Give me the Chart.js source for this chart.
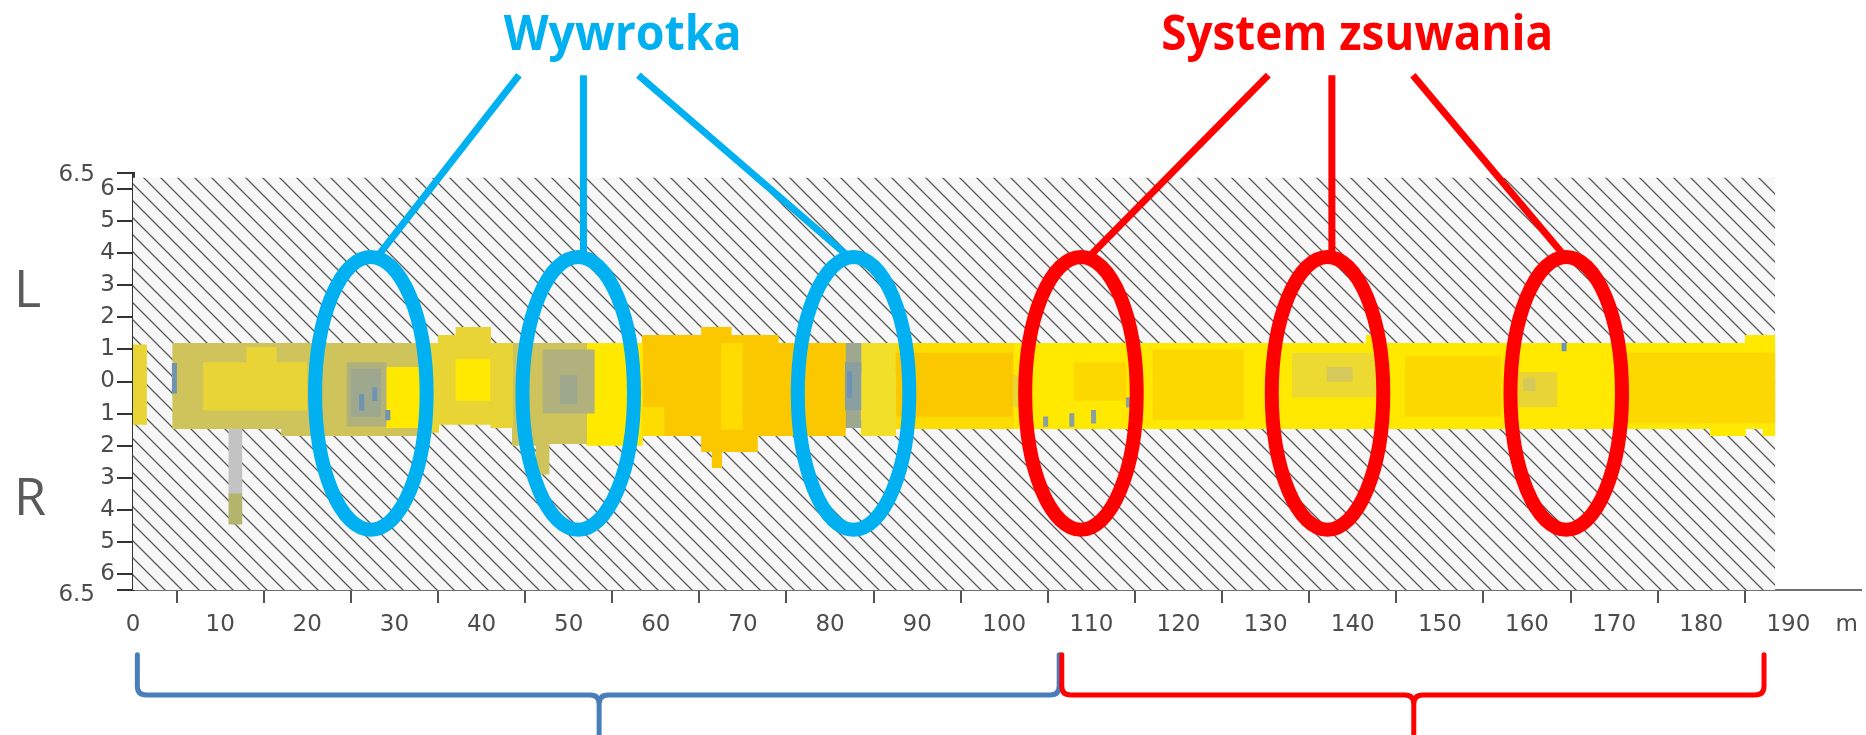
<!DOCTYPE html>
<html>
<head>
<meta charset="utf-8">
<title>Wywrotka / System zsuwania</title>
<script src="https://cdn.jsdelivr.net/npm/chart.js@4.4.1/dist/chart.umd.min.js"></script>
<style>
  html, body { margin: 0; padding: 0; background: #fff; }
  #wrap { position: relative; width: 1866px; height: 735px; }
</style>
</head>
<body>
<div id="wrap"><canvas id="chart"></canvas></div>
<script>
// --- dane (metry wzdłuż drogi, metry w poprzek: + lewa / - prawa) ---
const xTicks = [0, 10, 20, 30, 40, 50, 60, 70, 80, 90, 100, 110, 120, 130, 140, 150, 160, 170, 180, 190];
const yTicks = [-6.5, -6, -5, -4, -3, -2, -1, 0, 1, 2, 3, 4, 5, 6, 6.5];
const unitAt = 196.7;

// zakres pomiaru (szrafowany)
const hatchStart = 0;
const hatchEnd = 188.5;
const hatchTop = 6.35;

// pas zmierzony: odcinek od x[i] do x[i+1]
const bandX      = [0, 1.6, 4.5, 17, 33, 35, 37, 41, 43.5, 46.2, 47.7, 52, 58.4, 65.2, 66.4, 67.5, 68.6, 71.6, 74, 81.7, 83.5, 87.5, 101, 141.5, 142.3, 181, 185, 187, 188.5];
const bandTop    = [1.15, 0, 1.2, 1.2, 1.2, 1.45, 1.7, 1.2, 1.2, 1.2, 1.2, 1.2, 1.45, 1.7, 1.7, 1.7, 1.45, 1.45, 1.2, 1.2, 1.2, 1.2, 1.2, 1.45, 1.2, 1.2, 1.45, 1.45, 1.45];
const bandBottom = [-1.35, 0, -1.48, -1.7, -1.6, -1.35, -1.35, -1.45, -2.0, -2.9, -1.95, -2.0, -1.7, -2.2, -2.7, -2.2, -2.2, -1.7, -1.7, -1.45, -1.7, -1.48, -1.48, -1.48, -1.48, -1.7, -1.48, -1.7, -1.7];
const bandTone   = ['khaki', null, 'olive', 'olive', 'khaki', 'khaki', 'khaki', 'khaki', 'olive', 'olive', 'olive', 'lemon', 'amber', 'amber', 'amber', 'amber', 'amber', 'amber', 'amber', 'slate', 'pale', 'sun', 'lemon', 'lemon', 'lemon', 'lemon', 'lemon', 'lemon', null];

// środek pasa
const coreX      = [0, 8, 20, 24.5, 29, 33, 37, 41, 47, 53, 81.7, 83.5, 87.5, 101, 108, 114, 117, 127.5, 133, 143, 146, 157, 159, 163.5, 170, 188.5];
const coreTop    = [0, 0.6, 0, 0.6, 0.45, 0, 0.7, 0, 1.0, 0, 0.6, 0.3, 0.9, 0, 0.6, 0, 1.0, 0, 0.9, 0, 0.8, 0, 0.3, 0, 0.9, 0.9];
const coreBottom = [0, -0.9, 0, -1.4, -1.45, 0, -0.6, 0, -1.0, 0, -0.9, -1.2, -1.1, 0, -0.6, 0, -1.2, 0, -0.5, 0, -1.1, 0, -0.8, 0, -1.3, -1.3];
const coreTone   = [null, 'khaki', null, 'sage', 'lemon', null, 'lemon', null, 'sage', null, 'steel', 'pale', 'amber', null, 'gold', null, 'gold', null, 'bright', null, 'gold', null, 'khaki', null, 'gold', null];

// plamy
const patchX      = [0, 13, 16.5, 25, 28.5, 49, 51, 58.4, 61, 67.5, 70, 101, 103, 137, 140, 159.5, 161, 188.5];
const patchTop    = [0, 1.07, 0, 0.4, 0, 0.2, 0, -0.8, 0, 1.2, 0, 0.2, 0, 0.45, 0, 0.1, 0, 0];
const patchBottom = [0, 0.4, 0, -1.1, 0, -0.7, 0, -1.7, 0, -1.5, 0, -0.8, 0, 0, 0, -0.3, 0, 0];
const patchTone   = [null, 'khaki', null, 'slate', null, 'slate', null, 'sun', null, 'sun', null, 'khaki', null, 'ochre', null, 'ochre', null, null];

// smugi (komórki 0.5 m)
const streakX    = [4.75, 11.25, 11.75, 12.25, 11.25, 11.75, 12.25, 26.25, 27.75, 29.25, 82.25, 104.75, 107.75, 110.25, 114.25, 164.25];
const streakLow  = [-0.36, -3.5, -3.5, -3.5, -4.45, -4.45, -4.45, -0.9, -0.6, -1.2, -0.5, -1.4, -1.4, -1.3, -0.8, 0.95];
const streakHigh = [0.57, -1.48, -1.48, -1.48, -3.5, -3.5, -3.5, -0.4, -0.2, -0.9, 0.3, -1.1, -1.0, -0.9, -0.5, 1.2];
const streakTone = ['blue', 'gray', 'gray', 'gray', 'moss', 'moss', 'moss', 'blue', 'blue', 'blue', 'blue', 'steel', 'steel', 'steel', 'steel', 'blue'];

// --- kolory ---
const tones = {
  olive: '#cec45b',
  khaki: '#e8d535',
  pale: '#f1df2a',
  bright: '#ecd932',
  lemon: '#ffe900',
  sun: '#ffdc00',
  gold: '#fdd700',
  amber: '#fbc800',
  sage: '#b0b17c',
  slate: '#9ea88e',
  steel: '#8a9fa0',
  blue: '#6f93b0',
  gray: '#c3c3c3',
  moss: '#b4b46c',
  ochre: '#d6c95c'
};

// --- adnotacje ---
const groups = [
  { text: 'Wywrotka', color: '#00b0f0', at: 56.2, maxWidth: 238,
    ellipses: [27.3, 51.1, 82.7], from: [44.3, 51.7, 58.0], to: [28.0, 51.7, 82.2] },
  { text: 'System zsuwania', color: '#ff0000', at: 140.5, maxWidth: 392,
    ellipses: [108.8, 137.1, 164.5], from: [130.3, 137.6, 146.9], to: [109.7, 137.6, 164.4] }
];
const braces = [
  { from: 0.5, to: 106.3, tip: 53.5, color: '#4a7ebb' },
  { from: 106.6, to: 187.2, tip: 147, color: '#ff0000' }
];

// zakładka między sąsiednimi odcinkami (żeby nie było szwów)
const seam = 0.12;

const chartCanvas = document.getElementById('chart');
const chartCtx = chartCanvas.getContext('2d');

function makeHatch() {
  const s = 17;
  const c = document.createElement('canvas');
  c.width = s;
  c.height = s;
  const g = c.getContext('2d');
  g.fillStyle = '#f7f7f7';
  g.fillRect(0, 0, s, s);
  g.strokeStyle = '#5a5a5a';
  g.lineWidth = 1.3;
  g.beginPath();
  g.moveTo(-2, -2); g.lineTo(s + 2, s + 2);
  g.moveTo(-2, s - 2); g.lineTo(2, s + 2);
  g.moveTo(s - 2, -2); g.lineTo(s + 2, 2);
  g.stroke();
  return chartCtx.createPattern(c, 'repeat');
}

// jeden odcinek = linia na górnej krawędzi wypełniona do dolnej krawędzi
function blocks(label, xs, tops, bottoms, toneList, order) {
  const out = [];
  for (let i = 0; i < xs.length - 1; i++) {
    if (!toneList[i]) continue;
    const next = toneList[i + 1] ? xs[i + 1] + seam : xs[i + 1];
    out.push({
      type: 'line', label: label, order: order,
      data: [{ x: xs[i], y: tops[i] }, { x: next, y: tops[i] }],
      fill: { value: bottoms[i] },
      backgroundColor: tones[toneList[i]],
      borderColor: 'rgba(0,0,0,0)', borderWidth: 0, pointRadius: 0
    });
  }
  return out;
}

const datasets = [
  {
    type: 'line', label: 'zakres', order: 10,
    data: [{ x: hatchStart, y: hatchTop }, { x: hatchEnd, y: hatchTop }],
    fill: 'start', backgroundColor: makeHatch(),
    borderWidth: 0, borderColor: 'rgba(0,0,0,0)', pointRadius: 0
  },
  ...blocks('pas', bandX, bandTop, bandBottom, bandTone, 8),
  ...blocks('środek', coreX, coreTop, coreBottom, coreTone, 6),
  ...blocks('plamy', patchX, patchTop, patchBottom, patchTone, 5),
  {
    type: 'bar', label: 'smugi', order: 4,
    data: streakX.map((x, i) => ({ x: x, y: [streakLow[i], streakHigh[i]] })),
    backgroundColor: streakTone.map(t => tones[t]),
    barPercentage: 1, categoryPercentage: 1, grouped: false, borderWidth: 0
  }
];

function drawBrace(ctx, x0, x1, xt, yTop, yMid, yBot, r) {
  ctx.beginPath();
  ctx.moveTo(x0, yTop);
  ctx.lineTo(x0, yMid - r);
  ctx.quadraticCurveTo(x0, yMid, x0 + r, yMid);
  ctx.lineTo(xt - r, yMid);
  ctx.quadraticCurveTo(xt, yMid, xt, yMid + r);
  ctx.lineTo(xt, yBot);
  ctx.moveTo(x1, yTop);
  ctx.lineTo(x1, yMid - r);
  ctx.quadraticCurveTo(x1, yMid, x1 - r, yMid);
  ctx.lineTo(xt + r, yMid);
  ctx.quadraticCurveTo(xt, yMid, xt, yMid + r);
  ctx.stroke();
}

const annotate = {
  id: 'annotate',
  afterDraw(chart) {
    const { ctx, chartArea } = chart;
    const xs = chart.scales.x;
    const ys = chart.scales.y;
    const px = v => xs.getPixelForValue(v);
    const py = v => ys.getPixelForValue(v);
    ctx.save();

    // 6.5 na końcach osi
    ctx.font = '23px "DejaVu Sans"';
    ctx.fillStyle = '#4d4d4d';
    ctx.textAlign = 'right';
    ctx.textBaseline = 'middle';
    ctx.fillText('6.5', chartArea.left - 38, py(6.5) + 2);
    ctx.fillText('6.5', chartArea.left - 38, py(-6.5) + 5);

    // strony L / R
    ctx.font = '52px "Open Sans"';
    ctx.fillStyle = '#5a5a5a';
    ctx.textAlign = 'left';
    ctx.textBaseline = 'alphabetic';
    ctx.fillText('L', 14, py(2.32));
    ctx.fillText('R', 14, py(-4.16));

    // nawiasy pod osią
    ctx.lineWidth = 5;
    ctx.lineCap = 'round';
    ctx.lineJoin = 'round';
    braces.forEach(b => {
      ctx.strokeStyle = b.color;
      drawBrace(ctx, px(b.from), px(b.to), px(b.tip), py(-8.52), py(-9.77), py(-11.3), 9);
    });

    // odnośniki, elipsy i podpisy
    const rx = px(6.4) - px(0);
    const ry = py(0) - py(4.25);
    groups.forEach(g => {
      ctx.strokeStyle = g.color;
      ctx.lineCap = 'butt';
      ctx.lineWidth = 7;
      g.from.forEach((f, i) => {
        ctx.beginPath();
        ctx.moveTo(px(f), py(9.55));
        ctx.lineTo(px(g.to[i]), py(3.88));
        ctx.stroke();
      });
      ctx.lineWidth = 14;
      g.ellipses.forEach(cx => {
        ctx.beginPath();
        ctx.ellipse(px(cx), py(-0.37), rx, ry, 0, 0, Math.PI * 2);
        ctx.stroke();
      });
      ctx.font = 'bold 48px "Open Sans"';
      ctx.fillStyle = g.color;
      ctx.textAlign = 'center';
      ctx.textBaseline = 'alphabetic';
      ctx.fillText(g.text, px(g.at), py(10.33), g.maxWidth);
    });

    ctx.restore();
  }
};

Chart.defaults.font.family = '"DejaVu Sans", sans-serif';

new Chart(chartCtx, {
  type: 'line',
  data: { datasets: datasets },
  options: {
    responsive: true,
    maintainAspectRatio: false,
    animation: false,
    devicePixelRatio: 1,
    events: [],
    layout: { padding: { top: 173, left: 0, right: 0, bottom: 0 } },
    plugins: {
      legend: { display: false },
      tooltip: { enabled: false }
    },
    scales: {
      x: {
        type: 'linear',
        min: 0,
        max: 198.3,
        offset: false,
        afterBuildTicks: s => { s.ticks = xTicks.concat([unitAt]).map(v => ({ value: v })); },
        afterFit: s => { s.height = 145; },
        ticks: {
          autoSkip: false,
          maxRotation: 0,
          padding: 8,
          color: '#4d4d4d',
          font: { size: 23 },
          callback: v => v === unitAt ? 'm' : String(v)
        },
        grid: {
          drawOnChartArea: false,
          tickLength: 13,
          lineWidth: 2,
          tickColor: c => (c.tick && c.tick.value === unitAt) ? 'rgba(0,0,0,0)' : '#555'
        },
        border: { color: '#707070', width: 2 }
      },
      y: {
        type: 'linear',
        min: -6.5,
        max: 6.5,
        afterBuildTicks: s => { s.ticks = yTicks.map(v => ({ value: v })); },
        afterFit: s => { s.width = 133; },
        ticks: {
          autoSkip: false,
          padding: 2,
          color: '#4d4d4d',
          font: { size: 23 },
          callback: v => Math.abs(v) === 6.5 ? '' : String(Math.abs(v))
        },
        grid: {
          drawOnChartArea: false,
          tickLength: 16,
          lineWidth: 2,
          tickColor: '#333'
        },
        border: { color: '#333', width: 3 }
      }
    }
  },
  plugins: [annotate]
});
</script>
</body>
</html>
